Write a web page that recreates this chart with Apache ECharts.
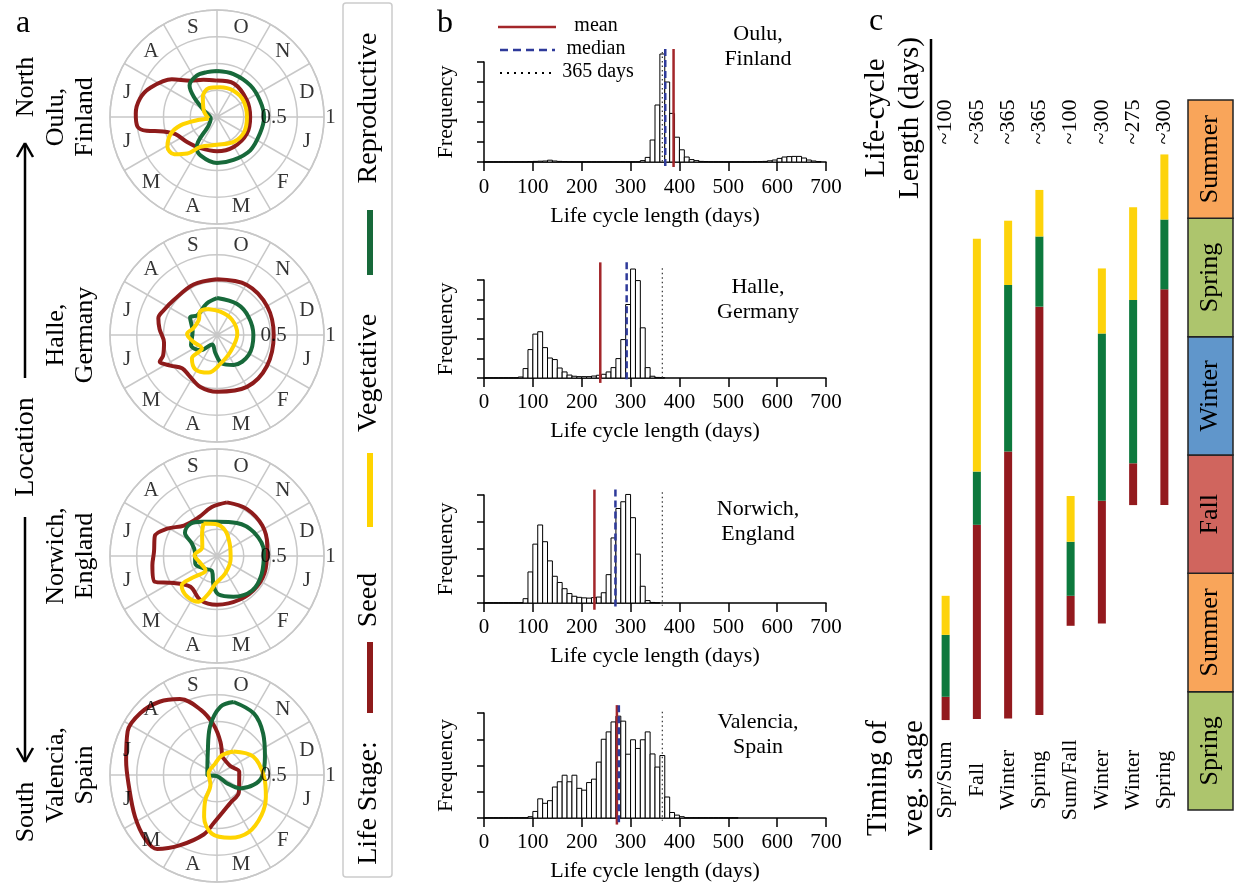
<!DOCTYPE html>
<html><head><meta charset="utf-8">
<script src="https://cdn.jsdelivr.net/npm/echarts@6/dist/echarts.min.js"></script>
<style>html,body{margin:0;padding:0;background:#fff}#chart{width:1238px;height:883px}</style>
</head><body><div id="chart"></div>
<script>
// ---------------- DATA ----------------
// Panel a: months clockwise from the top (starting 1 October)
const monthLabels = ['O','N','D','J','F','M','A','M','J','J','A','S'];
const ringLabels = ['0.5','1'];
const ringValues = [0.5, 1];
const polarLocations = ['Oulu,\nFinland','Halle,\nGermany','Norwich,\nEngland','Valencia,\nSpain'];
// curves: [months since 1 Oct, proportion]
const ouluSeed = [[0,0.34],[0.89,0.35],[2.03,0.32],[3,0.31],[3.97,0.32],[5.03,0.32],[6,0.32],[6.93,0.33],[7.67,0.365],[8.25,0.42],[8.5,0.52],[8.63,0.67],[8.78,0.75],[9.08,0.76],[9.45,0.74],[9.79,0.68],[10.33,0.55],[10.8,0.42],[11.33,0.37]];
const ouluVeg = [[0,0.43],[0.7,0.43],[1.55,0.43],[2.3,0.43],[3,0.44],[3.7,0.43],[4.5,0.44],[5.3,0.43],[6,0.43],[6.78,0.39],[7.13,0.34],[7.5,0.11],[8.53,0.06],[9.9,0.14],[10.37,0.29],[10.63,0.39],[11.13,0.43],[11.58,0.43]];
const ouluRep = [[8.63,0.08],[8.7,0.19],[8.57,0.35],[8.33,0.46],[7.97,0.54],[7.63,0.53],[7.3,0.44],[6.97,0.32],[6,0.26],[4.87,0.28],[3.97,0.29],[3,0.28],[1.93,0.29],[1.07,0.29],[0.2,0.28],[11.47,0.28],[10.83,0.23],[9.9,0.14]];
const halleSeed = [[0,0.52],[1.03,0.545],[2.02,0.54],[3,0.53],[4.07,0.55],[5,0.56],[6,0.53],[6.59,0.51],[7.16,0.46],[7.55,0.45],[7.89,0.52],[8.17,0.59],[8.3,0.54],[8.73,0.5],[9.2,0.54],[9.53,0.57],[9.82,0.55],[10.3,0.52],[11.17,0.52]];
const halleVeg = [[0,0.345],[1.1,0.345],[2,0.34],[3,0.34],[4.07,0.35],[5.03,0.32],[5.67,0.27],[6.17,0.17],[6.9,0.1],[7.57,0.21],[8.3,0.26],[9.27,0.23],[10.1,0.3],[10.5,0.26],[11.4,0.31]];
const halleRep = [[11.3,0.26],[0.27,0.22],[1.5,0.2],[2.9,0.19],[4.7,0.2],[5.77,0.27],[6.42,0.36],[7.07,0.38],[7.57,0.32],[7.6,0.19],[8.47,0.23],[9.07,0.28],[9.53,0.23],[10.3,0.22],[10.8,0.27]];
const norwichSeed = [[0.35,0.51],[1.07,0.52],[1.87,0.51],[2.6,0.48],[3.48,0.47],[4.27,0.47],[5.07,0.46],[6,0.455],[6.69,0.44],[7.36,0.38],[7.93,0.475],[8.25,0.63],[8.73,0.61],[9.13,0.59],[9.59,0.61],[9.96,0.53],[10.42,0.42],[11.16,0.4],[11.8,0.46]];
const norwichVeg = [[0,0.32],[1.03,0.36],[1.92,0.41],[2.83,0.44],[3.73,0.45],[4.48,0.46],[5.27,0.41],[5.92,0.36],[6.22,0.28],[6.6,0.15],[7.55,0.17],[8.35,0.215],[9.35,0.21],[9.87,0.26],[10.2,0.37],[10.68,0.39],[11.2,0.35]];
const norwichRep = [[11.25,0.33],[11.9,0.3],[0.6,0.25],[1.53,0.165],[3.37,0.13],[5.16,0.18],[6.11,0.26],[6.42,0.36],[6.73,0.46],[7.23,0.47],[7.67,0.43],[7.62,0.31],[7.3,0.17],[8.27,0.17],[9.06,0.21],[10.03,0.16],[10.87,0.25]];
const valenciaSeed = [[0.5,0.18],[1.87,0.15],[2.73,0.21],[4.27,0.26],[5.17,0.29],[6.13,0.45],[6.42,0.57],[6.92,0.74],[7.3,0.89],[7.6,0.9],[8.1,0.86],[8.75,0.83],[9.3,0.86],[9.87,0.93],[10.3,0.92],[10.73,0.87],[11.13,0.79],[11.53,0.63],[11.87,0.47],[0.2,0.31]];
const valenciaVeg = [[0.43,0.7],[1.03,0.67],[1.6,0.58],[2.3,0.48],[3.07,0.42],[3.5,0.355],[4,0.25],[4.33,0.12],[6,0.01],[9,0.09],[11.23,0.22],[11.73,0.46],[0.1,0.64]];
const valenciaRep = [[1.18,0.27],[2.1,0.38],[3.07,0.44],[3.8,0.5],[4.4,0.56],[5.03,0.61],[5.6,0.6],[6.17,0.55],[6.57,0.41],[6.83,0.26],[7.13,0.11],[9.37,0.08],[11.73,0.11],[0.47,0.19]];

// Panel b: histograms, 10-day bins starting at 0 (frequency in tick units)
const binWidth = 10;
const ouluFreq = [0.01,0.01,0.01,0.01,0.01,0.01,0.01,0.01,0.01,0.02,0.03,0.04,0.05,0.09,0.05,0.03,0.02,0.01,0.01,0.01,0.01,0.01,0.01,0.01,0.01,0.01,0.01,0.01,0.01,0.01,0.01,0.01,0.07,0.23,1.1,2.85,5.4,4.0,2.43,1.24,0.61,0.25,0.12,0.07,0.03,0.02,0.01,0.01,0.01,0.01,0.01,0.01,0.01,0.01,0.01,0.02,0.02,0.03,0.06,0.1,0.18,0.25,0.27,0.28,0.28,0.2,0.1,0.05,0.02];
const halleFreq = [0.01,0.01,0.01,0.01,0.01,0.01,0.01,0.05,0.48,1.45,2.24,2.36,1.55,1.02,0.94,0.51,0.31,0.15,0.09,0.07,0.07,0.07,0.1,0.14,0.19,0.31,0.53,0.99,1.96,3.75,5.56,4.97,2.56,0.53,0.09,0.03,0.02];
const norwichFreq = [0.01,0.01,0.01,0.01,0.01,0.01,0.01,0.01,0.16,1.15,2.18,2.89,2.27,1.56,0.99,0.76,0.53,0.35,0.25,0.21,0.19,0.18,0.2,0.22,0.38,1.05,2.41,3.5,3.75,4.02,3.16,1.81,0.62,0.09,0.02,0.01];
const valenciaFreq = [0.01,0.01,0.01,0.01,0.01,0.01,0.01,0.01,0.01,0.05,0.25,0.73,0.56,0.66,1.18,1.38,1.63,1.38,1.63,1.13,1.06,1.35,1.48,2.13,3.0,3.28,3.66,3.88,3.69,2.43,2.98,2.65,2.98,3.28,2.44,1.94,2.38,0.8,0.21,0.11,0.05,0.01,0.01,0.01,0.01,0.01,0.01,0.01,0.01,0.01,0.01,0.01];
const meanDays = [388, 238, 226, 272];
const medianDays = [371, 292, 269, 276];
const yearDays = 365;
const histLocations = ['Oulu,\nFinland','Halle,\nGermany','Norwich,\nEngland','Valencia,\nSpain'];

// Panel c: timing in months since the start of the first spring
const cycleLabels = ['~100','~365','~365','~365','~100','~300','~275','~300'];
const vegTiming = ['Spr/Sum','Fall','Winter','Spring','Sum/Fall','Winter','Winter','Spring'];
const seedStart = [2.28, 2.31, 2.32, 2.41, 4.67, 4.73, 7.73, 7.73];
const vegStart  = [2.87, 7.23, 9.09, 12.76, 5.43, 7.84, 8.79, 13.2];
const repStart  = [4.44, 8.58, 13.31, 14.54, 6.8, 12.08, 12.93, 14.97];
const cycleEnd  = [5.43, 14.48, 14.94, 15.72, 7.96, 13.73, 15.28, 16.62];
const seasonNames = ['Spring','Summer','Fall','Winter','Spring','Summer'];
const seasonStart = [0, 3, 6, 9, 12, 15];
const seasonLength = 3;

// ---------------- STYLE / LAYOUT ----------------
const FONT = '"Liberation Serif", "Times New Roman", serif';
const C = {seed:'#8E1B1B', veg:'#17693A', rep:'#FFD400', grid:'#c8c8c8'};
const CC = {seed:'#931A1E', veg:'#0D793D', rep:'#FDD30B'};
const seasonColor = {Spring:'#ADC56D', Summer:'#F9A55A', Fall:'#D0655E', Winter:'#6096CB'};
const polarCY = [117, 335, 556, 775];
const polarCX = 217, polarR = 107;
const curves = [[ouluSeed,ouluVeg,ouluRep],[halleSeed,halleVeg,halleRep],[norwichSeed,norwichVeg,norwichRep],[valenciaSeed,valenciaVeg,valenciaRep]];
const hist = [
  {freq:ouluFreq, top:62, height:100, max:5, off:5, lineHi:5.65, yearHi:5.5, label:47},
  {freq:halleFreq, top:280, height:98, max:5, off:4, lineHi:5.9, yearHi:5.6, label:300},
  {freq:norwichFreq, top:495, height:108, max:4, off:4, lineHi:4.2, yearHi:4.1, label:522},
  {freq:valenciaFreq, top:713, height:107, max:4, off:4, lineHi:4.3, yearHi:4.05, label:735}
];

const chart = echarts.init(document.getElementById('chart'), null, {renderer:'canvas'});

const polar = [], angleAxis = [], radiusAxis = [], series = [];
const grid = [], xAxis = [], yAxis = [];

polarCY.forEach((cy, i) => {
  polar.push({center:[polarCX, cy], radius: polarR});
  angleAxis.push({polarIndex:i, type:'value', min:0, max:12, interval:1, startAngle:90, clockwise:true,
    axisLine:{show:true, lineStyle:{color:C.grid, width:1.5}}, axisTick:{show:false}, axisLabel:{show:false},
    splitLine:{show:true, lineStyle:{color:C.grid, width:1.5}}});
  radiusAxis.push({polarIndex:i, type:'value', min:0, max:1, interval:0.25,
    axisLine:{show:false}, axisTick:{show:false}, axisLabel:{show:false},
    splitLine:{show:true, lineStyle:{color:C.grid, width:1.5}}});
  const cols = [C.seed, C.veg, C.rep];
  curves[i].forEach((pts, k) => {
    const closed = pts.concat([pts[0]]);
    series.push({type:'line', coordinateSystem:'polar', polarIndex:i, data: closed.map(p => [p[1], p[0]]),
      smooth:0.35, showSymbol:false, symbol:'none', clip:false, silent:true,
      lineStyle:{color:cols[k], width:4}, z:3+k});
  });
  series.push({type:'scatter', coordinateSystem:'polar', polarIndex:i, symbolSize:0, clip:false, silent:true, z:10,
    data: monthLabels.map((m, j) => ({name:m, value:[0.87, j + 0.5]}))
      .concat(ringLabels.map((l, j) => ({name:l, value:[ringValues[j]*1.06, 3]}))),
    label:{show:true, position:'inside', formatter:'{b}', fontFamily:FONT, fontSize:21, color:'#000'}});
});

hist.forEach((h, i) => {
  grid.push({left:484, width:342, top:h.top, height:h.height});
  xAxis.push({gridIndex:i, type:'value', min:0, max:700, interval:100, offset:h.off,
    axisLine:{show:true, lineStyle:{color:'#000', width:1.5}}, axisTick:{show:true, length:9, lineStyle:{color:'#000', width:1.5}},
    axisLabel:{margin:10, fontFamily:FONT, fontSize:21, color:'#000', showMinLabel:true, showMaxLabel:true},
    splitLine:{show:false}, name:'Life cycle length (days)', nameLocation:'middle', nameGap:38,
    nameTextStyle:{fontFamily:FONT, fontSize:22, color:'#000'}});
  yAxis.push({gridIndex:i, type:'value', min:0, max:h.max, interval:1, offset:12,
    axisLine:{show:true, lineStyle:{color:'#000', width:1.5}}, axisTick:{show:true, length:7, lineStyle:{color:'#000', width:1.5}},
    axisLabel:{show:false}, splitLine:{show:false}, name:'Frequency', nameLocation:'middle', nameGap:15,
    nameTextStyle:{fontFamily:FONT, fontSize:22, color:'#000'}});
  series.push({type:'custom', xAxisIndex:i, yAxisIndex:i, clip:false, silent:true, encode:{x:0, y:1},
    data: h.freq.map((f, j) => [j * binWidth, f]),
    renderItem:(p, api) => {
      const a = api.coord([api.value(0), api.value(1)]);
      const b = api.coord([api.value(0) + binWidth, 0]);
      return {type:'rect', shape:{x:a[0], y:a[1], width:b[0]-a[0], height:b[1]-a[1]}, style:{fill:'#fff', stroke:'#000', lineWidth:1}};
    }});
  const vline = (val, lo, hi, style, z) => ({type:'custom', xAxisIndex:i, yAxisIndex:i, clip:false, silent:true, z:z,
    encode:{x:0, y:[1,2]}, data:[[val, lo, hi]],
    renderItem:(p, api) => {
      const a = api.coord([api.value(0), api.value(2)]);
      const b = api.coord([api.value(0), api.value(1)]);
      return {type:'line', shape:{x1:a[0], y1:a[1], x2:b[0], y2:b[1]}, style:style};
    }});
  series.push(vline(yearDays, -0.1, h.yearHi, {stroke:'#333', lineWidth:1.2, lineDash:[1.5,3]}, 3));
  series.push(vline(meanDays[i], -0.25, h.lineHi, {stroke:'#A3262A', lineWidth:2.5}, 4));
  series.push(vline(medianDays[i], -0.25, h.lineHi, {stroke:'#2E3A9A', lineWidth:2.5, lineDash:[7,4]}, 5));
});

// Panel c grids
grid.push({left:930, width:250, top:100, height:710});   // index 4
grid.push({left:1188, width:45, top:100, height:710});   // index 5
xAxis.push({gridIndex:4, type:'category', data:vegTiming, position:'bottom', offset:-30,
  axisLine:{show:false}, axisTick:{show:false},
  axisLabel:{interval:0, rotate:90, margin:0, align:'center', verticalAlign:'middle', fontFamily:FONT, fontSize:22, color:'#000'}}); // 4
xAxis.push({gridIndex:4, type:'category', data:cycleLabels, position:'top', offset:-22,
  axisLine:{show:false}, axisTick:{show:false},
  axisLabel:{interval:0, rotate:-90, margin:0, align:'center', verticalAlign:'middle', fontFamily:FONT, fontSize:22, color:'#000'}}); // 5
xAxis.push({gridIndex:5, type:'value', min:0, max:1, show:false}); // 6
yAxis.push({gridIndex:4, type:'value', min:0, max:18, show:false}); // 4
yAxis.push({gridIndex:5, type:'value', min:0, max:18, show:false}); // 5

const stageBars = (starts, ends, color) => ({type:'custom', xAxisIndex:4, yAxisIndex:4, silent:true, clip:false,
  encode:{x:0, y:[1,2]}, data: starts.map((s, i) => [i, s, ends[i]]),
  renderItem:(p, api) => {
    const a = api.coord([api.value(0), api.value(2)]);
    const b = api.coord([api.value(0), api.value(1)]);
    const w = 8;
    return {type:'rect', shape:{x:a[0]-w/2, y:a[1], width:w, height:b[1]-a[1]}, style:{fill:color}};
  }});
series.push(stageBars(seedStart, vegStart, CC.seed));
series.push(stageBars(vegStart, repStart, CC.veg));
series.push(stageBars(repStart, cycleEnd, CC.rep));

series.push({type:'custom', xAxisIndex:6, yAxisIndex:5, silent:true, clip:false, encode:{x:0, y:[1,2]},
  data: seasonNames.map((n, i) => ({name:n, value:[0, seasonStart[i], seasonStart[i] + seasonLength]})),
  renderItem:(p, api) => {
    const a = api.coord([0, api.value(2)]);
    const b = api.coord([1, api.value(1)]);
    const name = seasonNames[p.dataIndex];
    return {type:'group', children:[
      {type:'rect', shape:{x:a[0], y:a[1], width:b[0]-a[0], height:b[1]-a[1]}, style:{fill:seasonColor[name], stroke:'#222', lineWidth:1.5}},
      {type:'text', x:(a[0]+b[0])/2, y:(a[1]+b[1])/2, rotation:Math.PI/2,
        style:{text:name, font:'26px ' + FONT, fill:'#000', align:'center', verticalAlign:'middle', textAlign:'center', textVerticalAlign:'middle'}}
    ]};
  }});

// ---------------- ANNOTATIONS ----------------
const T = (text, x, y, size, rot, lh) => ({type:'text', x:x, y:y, rotation: rot ? Math.PI/2 : 0, silent:true,
  style:{text:text, font: size + 'px ' + FONT, fill:'#000', align:'center', verticalAlign:'middle', textAlign:'center', textVerticalAlign:'middle', lineHeight: lh || Math.round(size*1.12)}});
const L = (x1, y1, x2, y2, stroke, w, dash) => ({type:'line', silent:true, shape:{x1, y1, x2, y2}, style:{stroke, lineWidth:w, lineDash:dash||null}});

const g = [];
g.push(T('a', 23, 24, 32));
g.push(T('b', 445, 24, 32));
g.push(T('c', 876, 22, 32));
g.push(T('North', 26, 87, 26, true));
g.push(T('Location', 26, 447, 28, true));
g.push(T('South', 26, 812, 26, true));
g.push(L(25, 145, 25, 378, '#000', 2.5));
g.push(L(17, 157, 25, 143, '#000', 2.5));
g.push(L(33, 157, 25, 143, '#000', 2.5));
g.push(L(25, 517, 25, 760, '#000', 2.5));
g.push(L(17, 748, 25, 762, '#000', 2.5));
g.push(L(33, 748, 25, 762, '#000', 2.5));
polarLocations.forEach((t, i) => g.push(T(t, 71, polarCY[i], 26, true)));
// life stage legend
g.push({type:'rect', silent:true, shape:{x:343, y:3, width:49, height:874, r:3}, style:{fill:'none', stroke:'#ccc', lineWidth:1.5}});
g.push(T('Reproductive', 369, 108, 28, true));
g.push(L(370, 210, 370, 275, C.veg, 6));
g.push(T('Vegetative', 369, 373, 28, true));
g.push(L(370, 453, 370, 527, C.rep, 6));
g.push(T('Seed', 369, 600, 28, true));
g.push(L(370, 642, 370, 713, C.seed, 6));
g.push(T('Life Stage:', 369, 803, 28, true));
// panel b legend
g.push(L(498, 27, 556, 27, '#A3262A', 2.5));
g.push(T('mean', 596, 26, 20));
g.push(L(500, 50, 555, 50, '#2E3A9A', 2.5, [8,5]));
g.push(T('median', 596, 49, 20));
g.push(L(500, 73, 553, 73, '#000', 2, [2,5]));
g.push(T('365 days', 598, 72, 20));
hist.forEach((h, i) => g.push(T(histLocations[i], 758, h.label, 22)));
// panel c titles and axis line
g.push(L(931, 39, 931, 850, '#000', 2.5));
g.push(T('Life-cycle\nLength (days)', 893, 118, 29, true, 34));
g.push(T('Timing of\nveg. stage', 896, 778, 29, true, 36));

chart.setOption({
  animation:false,
  backgroundColor:'#fff',
  textStyle:{fontFamily:FONT},
  polar, angleAxis, radiusAxis, grid, xAxis, yAxis, series,
  graphic:{elements:g}
});
</script></body></html>
